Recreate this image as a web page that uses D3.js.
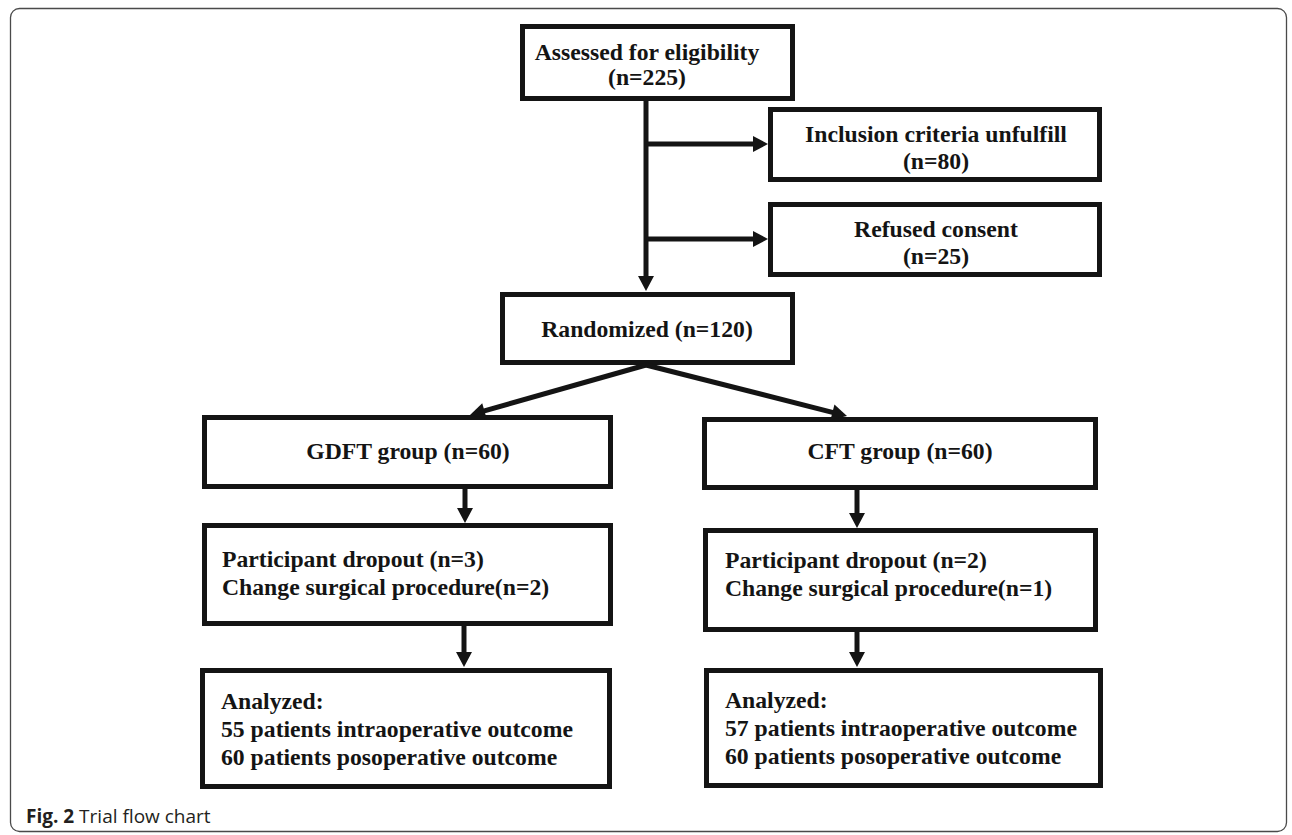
<!DOCTYPE html>
<html>
<head>
<meta charset="utf-8">
<script src="https://cdn.jsdelivr.net/npm/d3@7"></script>
<style>
  body { margin: 0; background: #fff; }
  svg { display: block; }
</style>
</head>
<body>
<div id="chart"></div>
<script>
// flow chart text, one array per stage
const screening = ["Assessed for eligibility", "(n=225)"];
const excluded = [
  ["Inclusion criteria unfulfill", "(n=80)"],
  ["Refused consent", "(n=25)"]
];
const randomized = ["Randomized (n=120)"];
const groups = ["GDFT group (n=60)", "CFT group (n=60)"];
const dropouts = [
  ["Participant dropout (n=3)", "Change surgical procedure(n=2)"],
  ["Participant dropout (n=2)", "Change surgical procedure(n=1)"]
];
const analyzed = [
  ["Analyzed:", "55 patients intraoperative outcome", "60 patients posoperative outcome"],
  ["Analyzed:", "57 patients intraoperative outcome", "60 patients posoperative outcome"]
];
const caption = ["Fig. 2", "Trial flow chart"];

const W = 1292, H = 835;
const ink = "#141414";
const sw = 5;

const svg = d3.select("#chart")
  .append("svg")
  .attr("width", W)
  .attr("height", H);

// outer frame
svg.append("rect")
  .attr("x", 10.5).attr("y", 8.5)
  .attr("width", 1276).attr("height", 823)
  .attr("rx", 9)
  .attr("fill", "none")
  .attr("stroke", "#4a4a4a")
  .attr("stroke-width", 1.3);

// box layout: [x0, x1, y0, y1], text x, first baseline, line step, anchor
const boxes = [
  { lines: screening, b: [520, 795, 24, 101], tx: 647, ty: 60, dy: 25, anchor: "middle" },
  { lines: excluded[0], b: [768, 1102, 107, 182], tx: 936, ty: 142, dy: 27, anchor: "middle" },
  { lines: excluded[1], b: [768, 1102, 202, 277], tx: 936, ty: 237, dy: 27, anchor: "middle" },
  { lines: randomized, b: [500, 795, 292, 365], tx: 647, ty: 337, dy: 0, anchor: "middle" },
  { lines: [groups[0]], b: [202, 613, 415, 489], tx: 408, ty: 459, dy: 0, anchor: "middle" },
  { lines: [groups[1]], b: [702, 1098, 417, 490], tx: 900, ty: 459, dy: 0, anchor: "middle" },
  { lines: dropouts[0], b: [202, 613, 523, 626], tx: 222, ty: 567, dy: 28, anchor: "start" },
  { lines: dropouts[1], b: [703, 1098, 528, 632], tx: 725, ty: 568, dy: 28, anchor: "start" },
  { lines: analyzed[0], b: [200, 612, 668, 789], tx: 221, ty: 709, dy: 28, anchor: "start" },
  { lines: analyzed[1], b: [704, 1103, 668, 788], tx: 725, ty: 708, dy: 28, anchor: "start" }
];

const box = svg.selectAll("g.box")
  .data(boxes)
  .enter()
  .append("g")
  .attr("class", "box");

box.append("rect")
  .attr("x", d => d.b[0] + sw / 2)
  .attr("y", d => d.b[2] + sw / 2)
  .attr("width", d => d.b[1] - d.b[0] - sw)
  .attr("height", d => d.b[3] - d.b[2] - sw)
  .attr("fill", "#fff")
  .attr("stroke", ink)
  .attr("stroke-width", sw);

box.selectAll("text")
  .data(d => d.lines.map((t, i) => ({ t, i, d })))
  .enter()
  .append("text")
  .attr("x", e => e.d.tx)
  .attr("y", e => e.d.ty + e.i * e.d.dy)
  .attr("text-anchor", e => e.d.anchor)
  .style("font-family", "'Liberation Serif', 'Times New Roman', serif")
  .style("font-weight", "bold")
  .style("font-size", "23.7px")
  .style("fill", ink)
  .text(e => e.t);

// arrows: from -> tip
const arrows = [
  [[646, 101], [646, 291]],
  [[646, 144], [768, 144]],
  [[646, 239], [768, 239]],
  [[646, 365], [470, 415]],
  [[646, 365], [847, 416]],
  [[465, 489], [465, 523]],
  [[857, 490], [857, 528]],
  [[464, 626], [464, 667]],
  [[857, 632], [857, 667]]
];

const headLen = 15, headHalf = 8;

arrows.forEach(([p, q]) => {
  const dx = q[0] - p[0], dy = q[1] - p[1];
  const len = Math.hypot(dx, dy);
  const ux = dx / len, uy = dy / len;
  const bx = q[0] - ux * headLen, by = q[1] - uy * headLen;
  svg.append("line")
    .attr("x1", p[0]).attr("y1", p[1])
    .attr("x2", bx + ux * 1).attr("y2", by + uy * 1)
    .attr("stroke", ink)
    .attr("stroke-width", sw);
  svg.append("path")
    .attr("d", d3.line()([
      [q[0], q[1]],
      [bx - uy * headHalf, by + ux * headHalf],
      [bx + uy * headHalf, by - ux * headHalf]
    ]) + "Z")
    .attr("fill", ink);
});

// caption
const cap = svg.append("text")
  .attr("x", 26)
  .attr("y", 823)
  .style("font-family", "'Open Sans', sans-serif")
  .style("font-size", "19px")
  .style("fill", "#231f20");
cap.append("tspan").style("font-weight", "bold").text(caption[0]);
cap.append("tspan").text(" " + caption[1]);
</script>
</body>
</html>
